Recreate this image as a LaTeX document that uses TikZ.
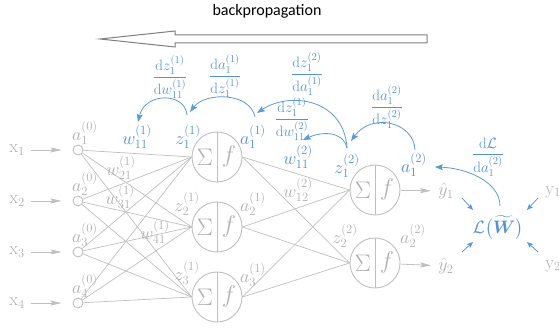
\RequirePackage{fix-cm}
\documentclass[tikz,border=0pt]{standalone}
\usepackage{amsmath}
\usepackage{fontspec}
\newfontfamily\titlefont{Carlito}
\usetikzlibrary{arrows.meta,calc}
\definecolor{lgray}{HTML}{BFBFBF}
\definecolor{tgray}{HTML}{B0B0B0}
\definecolor{agray}{HTML}{7F7F7F}
\definecolor{bblue}{HTML}{5B9BD5}
\definecolor{tblue}{HTML}{5293D0}
\begin{document}
\begin{tikzpicture}[x=1pt,y=-1pt,
  gline/.style={draw=lgray, line width=0.7pt},
  neuron/.style={circle, draw=lgray, line width=0.9pt, minimum size=50pt, inner sep=0pt},
  inp/.style={circle, draw=lgray, line width=0.9pt, minimum size=10pt, inner sep=0pt},
  sym/.style={text=tgray, font=\fontsize{24}{26}\selectfont, inner sep=0pt},
  glab/.style={text=tgray, font=\fontsize{18}{20}\selectfont, inner sep=0pt},
  blab/.style={text=tblue, font=\fontsize{18}{20}\selectfont, inner sep=0pt},
  fraclab/.style={text=tblue, font=\fontsize{15}{17}\selectfont, inner sep=0pt},
  barrow/.style={draw=bblue, line width=0.8pt, -{Stealth[length=8pt,width=6pt,inset=1.5pt]}},
  garrow/.style={draw=lgray, line width=0.8pt, -{Stealth[length=11pt,width=5pt,inset=2pt]}},
]
\useasboundingbox (0,0) rectangle (559,328);

% title and the hollow direction arrow
\node[font=\titlefont\fontsize{16}{18}\selectfont] (title) at (267,11) {backpropagation};
\draw[agray, line width=1pt, fill=white, line join=miter]
  (100,39) -- (175,31) -- (175,35) -- (427,35) -- (427,43) -- (175,43) -- (175,47) -- cycle;

% input layer
\foreach \i/\y in {1/150,2/201,3/252,4/303}{
  \node[inp] (i\i) at (78,\y) {};
  \node[glab] (x\i) at (17,\y) {$\mathrm{x}_{\i}$};
  \node[glab] (a0\i) at (85,\y-17) {$a_{\i}^{(0)}$};
  \draw[garrow, shorten <=6pt, shorten >=11pt] (x\i) -- (i\i);
}

% hidden layer
\foreach \j/\y in {1/157,2/227,3/297}{
  \node[neuron] (h\j) at (217,\y) {};
  \draw[gline] (h\j.north) -- (h\j.south);
  \node[sym] (s\j) at (205,\y) {$\Sigma$};
  \node[sym] (f\j) at (229,\y) {$f$};
}

% output layer
\foreach \k/\y in {1/190,2/263}{
  \node[neuron] (o\k) at (375,\y) {};
  \draw[gline] (o\k.north) -- (o\k.south);
  \node[sym] (so\k) at (363,\y) {$\Sigma$};
  \node[sym] (fo\k) at (387,\y) {$f$};
}

% weights
\foreach \i in {1,...,4}{
  \foreach \j in {1,2,3}{
    \draw[gline] (i\i) -- (h\j.west);
  }
}
\foreach \j in {1,2,3}{
  \foreach \k in {1,2}{
    \draw[gline] (h\j.east) -- (o\k.west);
  }
}

% gray labels
\node[glab] (w21) at (121,168) {$w_{21}^{(1)}$};
\node[glab] (w31) at (120,197) {$w_{31}^{(1)}$};
\node[glab] (w41) at (155,232) {$w_{41}^{(1)}$};
\node[glab] (z21) at (187,204) {$z_{2}^{(1)}$};
\node[glab] (z31) at (187,273) {$z_{3}^{(1)}$};
\node[glab] (a21) at (253,204) {$a_{2}^{(1)}$};
\node[glab] (a31) at (253,275) {$a_{3}^{(1)}$};
\node[glab] (w122) at (298,190) {$w_{12}^{(2)}$};
\node[glab] (z22) at (345,236) {$z_{2}^{(2)}$};
\node[glab] (a22) at (413,236) {$a_{2}^{(2)}$};
\node[glab] (yh1) at (446,191) {$\hat{y}_1$};
\node[glab] (yh2) at (446,266) {$\hat{y}_2$};
\node[glab] (y1) at (553,192) {$\mathrm{y}_1$};
\node[glab] (y2) at (553,266) {$\mathrm{y}_2$};

\draw[garrow, shorten <=1pt, shorten >=7pt] (o1) -- (yh1);
\draw[garrow, shorten <=1pt, shorten >=7pt] (o2) -- (yh2);

% blue labels
\node[blab] (w111) at (137,137) {$w_{11}^{(1)}$};
\node[blab] (z11) at (188,137) {$z_{1}^{(1)}$};
\node[blab] (a11) at (253,137) {$a_{1}^{(1)}$};
\node[blab] (w112) at (298,157) {$w_{11}^{(2)}$};
\node[blab] (z12) at (347,166) {$z_{1}^{(2)}$};
\node[blab] (a12) at (414,165) {$a_{1}^{(2)}$};
\node[blab] (L) at (498,228) {$\mathcal{L}\bigl(\widetilde{\boldsymbol{W}}\bigr)$};

% loss inputs
\coordinate (c1s) at (462,198); \coordinate (c1e) at (473,210);
\coordinate (c2s) at (538,198); \coordinate (c2e) at (527,210);
\coordinate (c3s) at (462,252); \coordinate (c3e) at (473,242);
\coordinate (c4s) at (538,252); \coordinate (c4e) at (527,242);
\draw[barrow, -{Stealth[length=6pt,width=5pt,inset=1pt]}] (c1s) -- (c1e);
\draw[barrow, -{Stealth[length=6pt,width=5pt,inset=1pt]}] (c2s) -- (c2e);
\draw[barrow, -{Stealth[length=6pt,width=5pt,inset=1pt]}] (c3s) -- (c3e);
\draw[barrow, -{Stealth[length=6pt,width=5pt,inset=1pt]}] (c4s) -- (c4e);

% derivative labels
\node[fraclab] (q1) at (170,77) {$\dfrac{\mathrm{d}z_1^{(1)}}{\mathrm{d}w_{11}^{(1)}}$};
\node[fraclab] (q2) at (225,76) {$\dfrac{\mathrm{d}a_1^{(1)}}{\mathrm{d}z_{1}^{(1)}}$};
\node[fraclab] (q3) at (307,74) {$\dfrac{\mathrm{d}z_1^{(2)}}{\mathrm{d}a_{1}^{(1)}}$};
\node[fraclab] (q4) at (292,119) {$\dfrac{\mathrm{d}z_1^{(1)}}{\mathrm{d}w_{11}^{(2)}}$};
\node[fraclab] (q5) at (387,107) {$\dfrac{\mathrm{d}a_1^{(2)}}{\mathrm{d}z_{1}^{(2)}}$};
\node[fraclab] (q6) at (488,157) {$\dfrac{\mathrm{d}\mathcal{L}}{\mathrm{d}a_{1}^{(2)}}$};

% backward chain
\draw[barrow] ($(L)+(2,-22)$) .. controls +(0,-25) and +(30,1) .. ($(a12)+(21,2)$);
\draw[barrow] ($(a12)+(1,-15)$) .. controls +(-1,-28) and +(21,-29) .. ($(z12)+(4,-25)$);
\draw[barrow] ($(z12)+(0,-18)$) .. controls +(-4,-18) and +(17,-8) .. ($(w112)+(5,-17)$);
\draw[barrow] ($(z12)+(0,-18)$) .. controls +(-3,-49) and +(33,-22) .. ($(a11)+(4,-24)$);
\draw[barrow] ($(a11)+(2,-20)$) .. controls +(-5,-25) and +(15,-20) .. ($(z11)+(2,-25)$);
\draw[barrow] ($(z11)+(-1,-22)$) .. controls +(-2,-23) and +(7,-30) .. ($(w111)+(1,-15)$);
\end{tikzpicture}
\end{document}
